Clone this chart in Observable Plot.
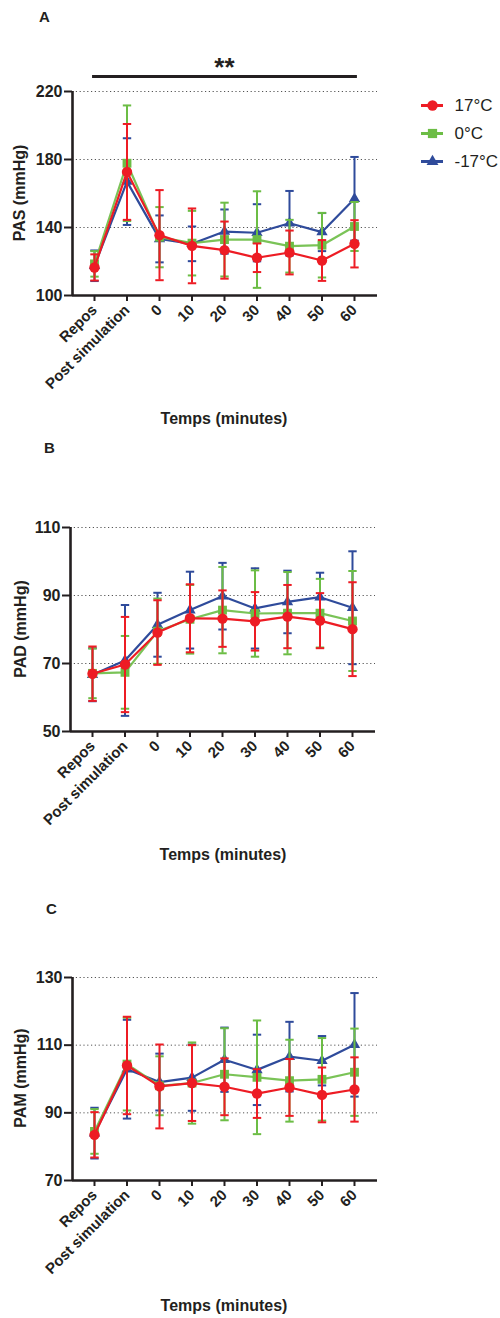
<!DOCTYPE html>
<html>
<head>
<meta charset="utf-8">
<script src="https://cdn.jsdelivr.net/npm/d3@7"></script>
<script src="https://cdn.jsdelivr.net/npm/@observablehq/plot@0.6"></script>
<style>
  html, body { margin: 0; padding: 0; background: #fff; }
  #page { position: relative; width: 500px; height: 1318px; overflow: hidden; font-family: "Liberation Sans", Arial, sans-serif; color: #231f20; }
  .abs { position: absolute; }
  .lbl { position: absolute; white-space: nowrap; font-weight: bold; font-size: 16px; line-height: 18px; }
  .letter { position: absolute; font-weight: bold; font-size: 15px; line-height: 16px; }
</style>
</head>
<body>
<div id="page"></div>
<script>
// ---------- data ----------
const categories = ["Repos", "Post simulation", "0", "10", "20", "30", "40", "50", "60"];
const series = ["17°C", "0°C", "-17°C"];
const seriesColors = ["#ED1C24", "#6CBD45", "#2F4B9B"];
const seriesSymbols = ["circle", "square", "triangle"];

// PAS (panel A)
const pas17Mean = [116.5, 172.7, 135.5, 129.2, 126.7, 122.2, 125.3, 120.6, 130.4];
const pas17Sd   = [7.7, 28.2, 26.5, 22.0, 16.8, 8.4, 12.9, 12.0, 13.9];
const pas0Mean  = [118.6, 177.8, 134.3, 130.8, 132.9, 132.9, 129.0, 129.6, 140.6];
const pas0Sd    = [7.5, 34.0, 17.7, 19.0, 21.7, 28.4, 15.5, 19.0, 14.4];
const pasM17Mean = [117.5, 167.0, 133.3, 130.4, 137.6, 136.9, 142.5, 137.3, 156.9];
const pasM17Sd   = [9.0, 25.5, 13.8, 10.2, 13.0, 16.8, 19.0, 11.2, 24.6];

// PAD (panel B)
const pad17Mean = [67.0, 69.7, 79.1, 83.3, 83.2, 82.4, 83.8, 82.6, 80.1];
const pad17Sd   = [8.0, 14.0, 9.5, 10.0, 8.3, 8.6, 9.3, 8.1, 13.8];
const pad0Mean  = [67.1, 67.4, 79.5, 83.0, 85.7, 84.7, 84.8, 84.8, 82.5];
const pad0Sd    = [7.3, 10.7, 9.6, 10.1, 12.7, 12.7, 12.1, 10.1, 14.7];
const padM17Mean = [66.7, 70.9, 81.4, 85.7, 89.8, 86.2, 88.1, 89.5, 86.4];
const padM17Sd   = [7.8, 16.3, 9.4, 11.3, 9.8, 11.8, 9.2, 7.2, 16.6];

// PAM (panel C)
const pam17Mean = [83.5, 104.0, 97.8, 98.8, 97.7, 95.7, 97.5, 95.3, 96.9];
const pam17Sd   = [6.7, 14.4, 12.4, 11.2, 8.4, 7.2, 8.4, 8.1, 9.5];
const pam0Mean  = [84.5, 104.4, 98.0, 98.8, 101.4, 100.5, 99.5, 99.9, 102.0];
const pam0Sd    = [6.6, 13.7, 8.7, 12.0, 13.6, 16.8, 12.1, 12.2, 12.9];
const pamM17Mean = [84.0, 102.9, 99.1, 100.4, 105.7, 102.7, 106.6, 105.4, 110.1];
const pamM17Sd   = [7.5, 14.6, 8.4, 9.8, 9.5, 10.4, 10.3, 7.3, 15.3];

// tick values
const pasTicks = [100, 140, 180, 220];
const padTicks = [50, 70, 90, 110];
const pamTicks = [70, 90, 110, 130];

// significance annotation (panel A)
const sigLabel = "**";
const sigFrom = "Repos";
const sigTo = "60";
const sigBarValue = 228.8;
const sigTextValue = 234.2;

// ---------- drawing ----------
const ink = "#231f20";
const font = "'Liberation Sans', Arial, Helvetica, sans-serif";
const xDomain = [-0.677, 8.708];
const capSymbol = {
  draw(ctx, size) {
    const w = Math.sqrt(size / Math.PI);
    ctx.moveTo(-w, 0);
    ctx.lineTo(w, 0);
  }
};

function buildRows(means, sds) {
  return series.map((s, k) => means[k].map((m, i) => ({
    series: s, i, mean: m, lo: m - sds[k][i], hi: m + sds[k][i]
  })));
}

function panel({means, sds, ticks, marginLeft, marginRight, marginTop, marginBottom, height, extra = []}) {
  const rowsBySeries = buildRows(means, sds);
  const marks = [
    Plot.gridY(ticks.slice(1), {stroke: "#555", strokeOpacity: 1, strokeWidth: 1, strokeDasharray: "1.2,2.6"}),
    Plot.axisY(ticks, {tickSize: 8, tickPadding: 2, strokeWidth: 2, color: ink, fontSize: 16, fontWeight: "bold", fontFamily: font, label: null}),
    Plot.axisX(d3.range(categories.length), {
      tickFormat: i => categories[i], tickRotate: -45, tickSize: 6, tickPadding: 6,
      strokeWidth: 2, color: ink, fontSize: 15, fontWeight: "bold", fontFamily: font, label: null
    }),
  ];
  // draw -17, then 0, then 17 (red on top)
  for (const k of [2, 1, 0]) {
    const rows = rowsBySeries[k];
    const c = seriesColors[k];
    marks.push(
      Plot.ruleX(rows, {x: "i", y1: "lo", y2: "hi", stroke: c, strokeWidth: 2}),
      Plot.dot(rows, {x: "i", y: "hi", symbol: capSymbol, r: 4.2, stroke: c, strokeWidth: 2, fill: "none"}),
      Plot.dot(rows, {x: "i", y: "lo", symbol: capSymbol, r: 4.2, stroke: c, strokeWidth: 2, fill: "none"}),
      Plot.line(rows, {x: "i", y: "mean", stroke: c, strokeWidth: 2.2, strokeOpacity: k === 1 ? 0.9 : 1}),
      Plot.dot(rows, {x: "i", y: "mean", symbol: seriesSymbols[k], r: k === 2 ? 4.2 : (k === 1 ? 5 : 5.2), fill: c, stroke: "none"})
    );
  }
  marks.push(
    Plot.ruleY([ticks[0]], {stroke: ink, strokeWidth: 2.6}),
    Plot.ruleX([xDomain[0]], {stroke: ink, strokeWidth: 2.6})
  );
  marks.push(...extra);
  return Plot.plot({
    width: 500, height, marginLeft, marginRight, marginTop, marginBottom,
    x: {type: "linear", domain: xDomain, label: null},
    y: {type: "linear", domain: [ticks[0], ticks[ticks.length - 1]], label: null},
    style: {fontFamily: font, background: "transparent", overflow: "visible"},
    marks
  });
}

const page = document.getElementById("page");
function place(node, left, top) {
  const d = document.createElement("div");
  d.className = "abs";
  d.style.left = left + "px";
  d.style.top = top + "px";
  d.appendChild(node);
  page.appendChild(d);
}
function label(text, cx, cy, rotate = false) {
  const d = document.createElement("div");
  d.className = "lbl";
  d.textContent = text;
  d.style.left = cx + "px";
  d.style.top = cy + "px";
  d.style.transform = "translate(-50%, -50%)" + (rotate ? " rotate(-90deg)" : "");
  page.appendChild(d);
}
function letter(text, left, top) {
  const d = document.createElement("div");
  d.className = "letter";
  d.textContent = text;
  d.style.left = left + "px";
  d.style.top = top + "px";
  page.appendChild(d);
}

const sigI1 = categories.indexOf(sigFrom);
const sigI2 = categories.indexOf(sigTo);
const sigExtra = [
  Plot.ruleY([sigBarValue], {x1: sigI1 - 0.06, x2: sigI2 + 0.09, stroke: ink, strokeWidth: 3}),
  Plot.text([sigLabel], {x: (sigI1 + sigI2) / 2, y: sigTextValue, text: d => d, fontSize: 26, fontWeight: "bold", fill: ink, fontFamily: font})
];

// Panel A
place(panel({
  means: [pas17Mean, pas0Mean, pasM17Mean], sds: [pas17Sd, pas0Sd, pasM17Sd], ticks: pasTicks,
  marginLeft: 72, marginRight: 123, marginTop: 91, marginBottom: 135, height: 430, extra: sigExtra
}), 0, 0);
// Panel B
place(panel({
  means: [pad17Mean, pad0Mean, padM17Mean], sds: [pad17Sd, pad0Sd, padM17Sd], ticks: padTicks,
  marginLeft: 70, marginRight: 125, marginTop: 87, marginBottom: 139, height: 430
}), 0, 440);
// Panel C
place(panel({
  means: [pam17Mean, pam0Mean, pamM17Mean], sds: [pam17Sd, pam0Sd, pamM17Sd], ticks: pamTicks,
  marginLeft: 72, marginRight: 123, marginTop: 87, marginBottom: 138, height: 428
}), 0, 890);

// Legend (panel A)
const legend = Plot.plot({
  width: 85, height: 82, margin: 0,
  x: {type: "linear", domain: [0, 85], range: [0, 85], axis: null},
  y: {type: "point", domain: series, range: [12, 69], padding: 0, axis: null},
  style: {background: "transparent", overflow: "visible", fontFamily: font},
  marks: [
    Plot.ruleY(series, {y: d => d, x1: 6, x2: 28, stroke: (d) => seriesColors[series.indexOf(d)], strokeWidth: 3}),
    ...series.map((s, k) => Plot.dot([s], {x: 17, y: d => d, symbol: seriesSymbols[k], r: k === 2 ? 4.4 : 5.2, fill: seriesColors[k], stroke: "none"})),
    Plot.text(series, {x: 39, y: d => d, text: d => d, textAnchor: "start", fontSize: 17, fill: ink, fontFamily: font})
  ]
});
place(legend, 415, 92);

// Text labels
letter("A", 39, 9);
letter("B", 44, 440);
letter("C", 46, 901);
label("PAS (mmHg)", 20, 193, true);
label("PAD (mmHg)", 21, 629, true);
label("PAM (mmHg)", 21, 1078, true);
label("Temps (minutes)", 224, 419);
label("Temps (minutes)", 223, 855);
label("Temps (minutes)", 224, 1306);
</script>
</body>
</html>
